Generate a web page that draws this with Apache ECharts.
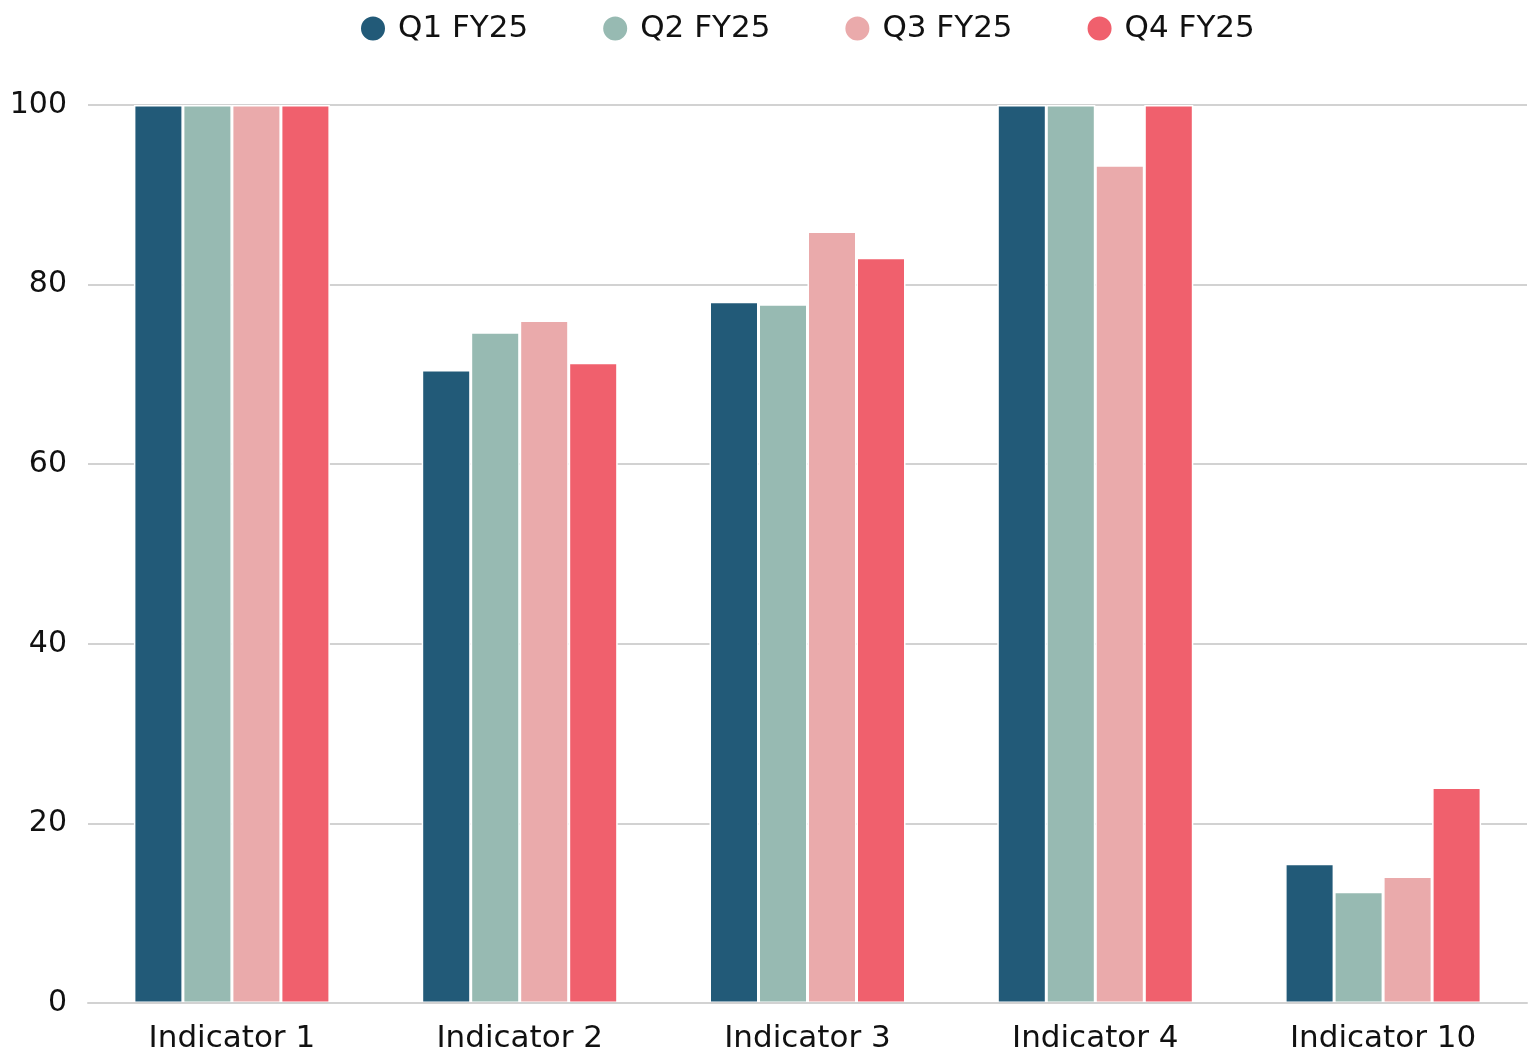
<!DOCTYPE html>
<html>
<head>
<meta charset="utf-8">
<script src="https://cdn.jsdelivr.net/npm/echarts@6/dist/echarts.min.js"></script>
<style>
html,body{margin:0;padding:0;background:#fff;}
#chart{width:1532px;height:1051px;}
</style>
</head>
<body>
<div id="chart"></div>
<script>
const categories = ['Indicator 1', 'Indicator 2', 'Indicator 3', 'Indicator 4', 'Indicator 10'];
const seriesNames = ['Q1 FY25', 'Q2 FY25', 'Q3 FY25', 'Q4 FY25'];
const q1 = [100, 70.5, 78.1, 100, 15.5];
const q2 = [100, 74.7, 77.8, 100, 12.4];
const q3 = [100, 76.0, 85.9, 93.3, 14.1];
const q4 = [100, 71.3, 83.0, 100, 24.0];
const yTicks = [0, 20, 40, 60, 80, 100];

const colors = ['#225a78', '#97bab2', '#eaaaab', '#f0606d'];
const values = [q1, q2, q3, q4];
const font = 'DejaVu Sans';

const chart = echarts.init(document.getElementById('chart'), null, {renderer: 'canvas'});
chart.setOption({
  animation: false,
  color: colors,
  textStyle: {fontFamily: font},
  legend: {
    top: 13,
    left: 359,
    padding: 0,
    icon: 'circle',
    itemWidth: 26,
    itemHeight: 26,
    itemGap: 73,
    textStyle: {fontFamily: font, fontSize: 31, color: '#111', padding: [0, 0, 0, 7]},
    data: seriesNames
  },
  grid: {left: 88, right: 5, top: 105, bottom: 48, containLabel: false, outerBoundsMode: 'none'},
  xAxis: {
    type: 'category',
    data: categories,
    z: 5,
    axisLine: {show: true, lineStyle: {color: '#d2d2d2', width: 2}},
    axisTick: {show: false},
    axisLabel: {fontFamily: font, fontSize: 31, color: '#111', margin: 20},
    splitLine: {show: false}
  },
  yAxis: {
    type: 'value',
    min: yTicks[0],
    max: yTicks[yTicks.length - 1],
    interval: yTicks[1] - yTicks[0],
    axisLine: {show: false},
    axisTick: {show: false},
    axisLabel: {fontFamily: font, fontSize: 30, color: '#111', margin: 21, padding: [4, 0, 0, 0]},
    splitLine: {show: true, lineStyle: {color: '#d2d2d2', width: 2}}
  },
  series: seriesNames.map((name, i) => ({
    name: name,
    type: 'bar',
    data: values[i],
    barWidth: 49,
    barGap: '0%',
    itemStyle: {color: colors[i], borderColor: '#ffffff', borderWidth: 1.5}
  }))
});
</script>
</body>
</html>
